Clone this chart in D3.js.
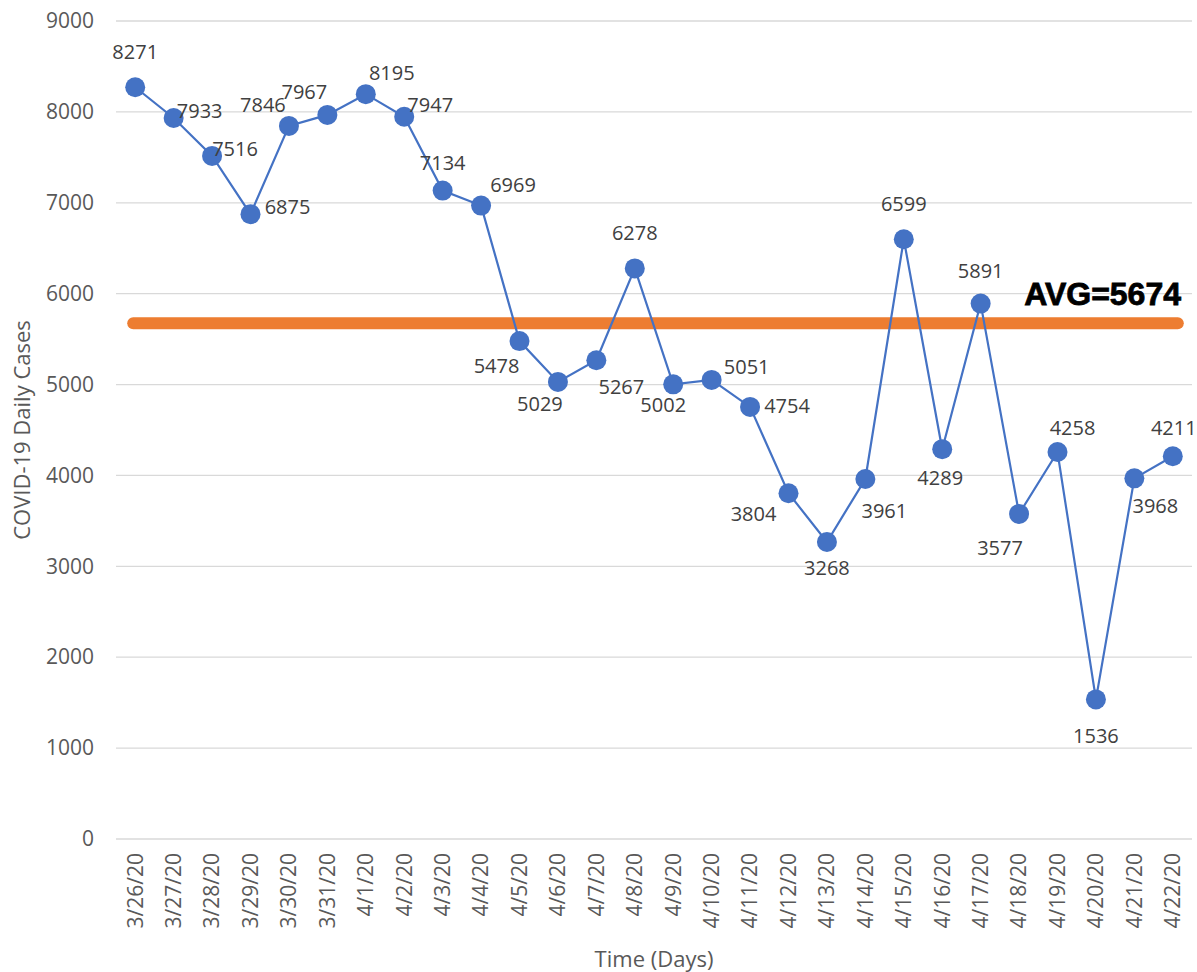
<!DOCTYPE html>
<html>
<head>
<meta charset="utf-8">
<script src="https://cdn.jsdelivr.net/npm/d3@7"></script>
<style>
  body { margin: 0; background: #fff; }
  text { font-family: "Open Sans", "Noto Sans", sans-serif; }
</style>
</head>
<body>
<div id="chart"></div>
<script>
"use strict"

// dates on the x axis
let days = ["3/26/20", "3/27/20", "3/28/20", "3/29/20", "3/30/20", "3/31/20", "4/1/20", "4/2/20",
    "4/3/20", "4/4/20", "4/5/20", "4/6/20", "4/7/20", "4/8/20", "4/9/20", "4/10/20", "4/11/20",
    "4/12/20", "4/13/20", "4/14/20", "4/15/20", "4/16/20", "4/17/20", "4/18/20", "4/19/20",
    "4/20/20", "4/21/20", "4/22/20"];

// daily cases
let cases = [8271, 7933, 7516, 6875, 7846, 7967, 8195, 7947, 7134, 6969, 5478, 5029, 5267, 6278,
    5002, 5051, 4754, 3804, 3268, 3961, 6599, 4289, 5891, 3577, 4258, 1536, 3968, 4211];

// where each data label sits around its point (dx, dy in px)
let labelPos = [[0, -35], [26, -7], [23, -7], [37, -7], [-26, -21], [-23, -23], [26, -21], [26, -12],
    [0, -28], [32, -21], [-23, 25], [-18, 22], [25, 27], [0, -35], [-10, 21], [35, -13], [37, -1],
    [-35, 21], [0, 26], [19, 32], [0, -35], [-2, 29], [0, -33], [-19, 34], [15, -24], [0, 37],
    [21, 28], [1, -28]];

let average = 5674;
let yTicks = [0, 1000, 2000, 3000, 4000, 5000, 6000, 7000, 8000, 9000];

let width = 1197,
    height = 972;
let margin = { top: 21, right: 5, bottom: 133, left: 116 };

let svg = d3.select("#chart")
    .append("svg")
    .attr("width", width)
    .attr("height", height);

let x = d3.scaleBand()
    .domain(days)
    .range([margin.left, width - margin.right]);

let y = d3.scaleLinear()
    .domain([0, 9000])
    .range([height - margin.bottom, margin.top]);

// gridlines
svg.append("g")
    .selectAll("line")
    .data(yTicks)
    .enter()
    .append("line")
    .attr("x1", margin.left)
    .attr("x2", width - margin.right)
    .attr("y1", d => y(d))
    .attr("y2", d => y(d))
    .attr("stroke", "#d9d9d9")
    .attr("stroke-width", 1.3);

// y axis labels
let yAxis = svg.append("g")
    .attr("transform", "translate(" + (margin.left - 22) + ",0)")
    .call(d3.axisLeft(y).tickValues(yTicks).tickFormat(d3.format("d")).tickSize(0).tickPadding(0));
yAxis.select(".domain").remove();
yAxis.selectAll("text")
    .attr("fill", "#595959")
    .style("font-size", "21px");

// x axis labels, rotated
let xAxis = svg.append("g")
    .attr("transform", "translate(0," + (height - margin.bottom) + ")")
    .call(d3.axisBottom(x).tickSize(0).tickPadding(0));
xAxis.select(".domain").remove();
xAxis.selectAll("text")
    .attr("fill", "#595959")
    .style("font-size", "21px")
    .attr("text-anchor", "end")
    .attr("dy", "0.35em")
    .attr("transform", "translate(0,14) rotate(-90)")
    .attr("x", 0)
    .attr("y", 0);

// axis titles
svg.append("text")
    .attr("transform", "translate(30," + ((margin.top + height - margin.bottom) / 2) + ") rotate(-90)")
    .attr("text-anchor", "middle")
    .attr("fill", "#595959")
    .style("font-size", "22px")
    .text("COVID-19 Daily Cases");

svg.append("text")
    .attr("x", (margin.left + width - margin.right) / 2)
    .attr("y", 967)
    .attr("text-anchor", "middle")
    .attr("fill", "#595959")
    .style("font-size", "22px")
    .text("Time (Days)");

// average line
let cx = d => x(d) + x.bandwidth() / 2;
svg.append("line")
    .attr("x1", cx(days[0]) - 2)
    .attr("x2", cx(days[days.length - 1]) + 5)
    .attr("y1", y(average))
    .attr("y2", y(average))
    .attr("stroke", "#ed7d31")
    .attr("stroke-width", 12)
    .attr("stroke-linecap", "round");

svg.append("text")
    .attr("x", 1181)
    .attr("y", y(average) - 18)
    .attr("text-anchor", "end")
    .attr("fill", "#000")
    .attr("stroke", "#000")
    .attr("stroke-width", 0.8)
    .style("font-family", "'Liberation Sans', Arial, sans-serif")
    .style("font-size", "32px")
    .style("font-weight", "bold")
    .text("AVG=" + average);

// the series line
let line = d3.line()
    .x((d, i) => cx(days[i]))
    .y(d => y(d));

svg.append("path")
    .datum(cases)
    .attr("d", line)
    .attr("fill", "none")
    .attr("stroke", "#4472c4")
    .attr("stroke-width", 2.2);

svg.selectAll("circle.pt")
    .data(cases)
    .enter()
    .append("circle")
    .attr("class", "pt")
    .attr("cx", (d, i) => cx(days[i]))
    .attr("cy", d => y(d))
    .attr("r", 10)
    .attr("fill", "#4472c4");

// data labels
svg.selectAll("text.lbl")
    .data(cases)
    .enter()
    .append("text")
    .attr("class", "lbl")
    .attr("x", (d, i) => cx(days[i]) + labelPos[i][0])
    .attr("y", (d, i) => y(d) + labelPos[i][1])
    .attr("dy", "0.35em")
    .attr("text-anchor", "middle")
    .attr("fill", "#404040")
    .style("font-size", "20px")
    .text(d => d);
</script>
</body>
</html>
